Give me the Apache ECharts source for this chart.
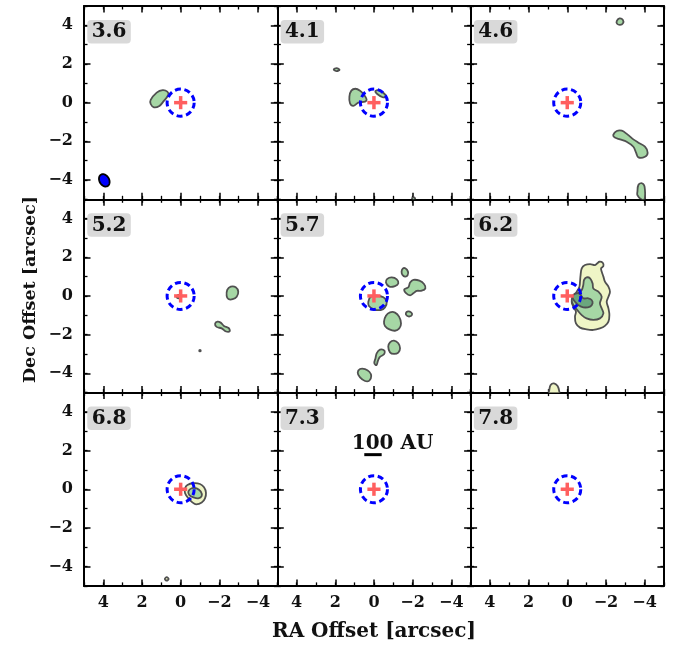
<!DOCTYPE html>
<html><head><meta charset="utf-8">
<script src="https://cdn.jsdelivr.net/npm/echarts@6/dist/echarts.min.js"></script>
<style>html,body{margin:0;padding:0;background:#fff}#c{width:681px;height:648px}</style>
</head><body><div id="c"></div>
<script>
// ---------- data ----------
const channels = ['3.6','4.1','4.6','5.2','5.7','6.2','6.8','7.3','7.8'];
const majorTicks = [-4,-2,0,2,4];
const axisRange = [-5,5];
const sourcePos = [0,0];
const markerRadius = 0.7;
const crossArm = 0.34;
const beamCenter = [3.95,-4.02];
const beamAxes = [0.34,0.25];   // semi-major, semi-minor (arcsec)
const beamPA = 30;              // degrees east of north
const scaleBarX = [0.50,-0.40];
const scaleBarY = 1.79;
const scaleText = '100 AU';
const scaleTextPos = [1.15,2.36];
const xTitle = 'RA Offset [arcsec]';
const yTitle = 'Dec Offset [arcsec]';

// contour outlines (RA offset, Dec offset)
const c36a = [[1.55,0.14],[1.24,0.52],[0.93,0.65],[0.69,0.57],[0.64,0.40],[0.90,0.05],[1.10,-0.17],[1.38,-0.24],[1.55,-0.07]];
const c41a = [[1.24,-0.03],[1.27,0.31],[1.17,0.62],[0.96,0.72],[0.72,0.62],[0.51,0.40],[0.38,0.17],[0.46,0.05],[0.81,0.00],[1.07,-0.17]];
const c41b = [[-0.07,0.59],[-0.23,0.65],[-0.48,0.51],[-0.62,0.31],[-0.45,0.28],[-0.17,0.45]];
const c41c = [[2.08,1.72],[1.93,1.79],[1.78,1.70],[1.93,1.63]];
const c41d = [[-1.97,-4.96],[-2.05,-4.89],[-2.13,-4.96],[-2.05,-5.03]];
const c46a = [[-2.56,4.22],[-2.70,4.36],[-2.88,4.28],[-2.88,4.10],[-2.73,4.02],[-2.58,4.08]];
const c46b = [[-2.38,-1.67],[-2.56,-1.47],[-2.82,-1.45],[-3.11,-1.64],[-3.42,-1.90],[-3.68,-2.07],[-4.02,-2.28],[-4.16,-2.59],[-4.02,-2.80],[-3.68,-2.83],[-3.56,-2.59],[-3.42,-2.28],[-3.07,-2.02],[-2.73,-1.90],[-2.44,-1.79]];
const c46c = [[-3.63,-4.60],[-3.68,-4.26],[-3.86,-4.17],[-4.00,-4.35],[-3.99,-5.05],[-3.82,-5.0],[-3.63,-4.78]];
const c52a = [[-2.38,0.00],[-2.41,0.31],[-2.59,0.48],[-2.85,0.45],[-2.98,0.22],[-2.90,-0.04],[-2.69,-0.17],[-2.47,-0.16]];
const c52b = [[-1.78,-1.45],[-1.90,-1.33],[-2.07,-1.38],[-2.24,-1.55],[-2.48,-1.66],[-2.54,-1.82],[-2.35,-1.84],[-2.12,-1.68],[-1.86,-1.60]];
const c52c = [[0.22,-0.04],[0.12,0.05],[0.02,-0.04],[0.12,-0.12]];
const c52d = [[-0.96,-2.83],[-1.0,-2.79],[-1.04,-2.83],[-1.0,-2.87]];
const c57a = [[-1.43,1.26],[-1.49,1.41],[-1.62,1.43],[-1.76,1.26],[-1.74,1.07],[-1.61,1.00],[-1.47,1.10]];
const c57b = [[-0.62,0.69],[-0.69,0.88],[-0.92,0.96],[-1.18,0.86],[-1.26,0.65],[-1.09,0.51],[-0.80,0.48]];
const c57c = [[-1.57,0.34],[-1.78,0.45],[-1.87,0.69],[-2.04,0.83],[-2.35,0.79],[-2.59,0.62],[-2.66,0.39],[-2.47,0.27],[-2.21,0.26],[-2.04,0.14],[-1.87,0.03],[-1.66,0.14]];
const c57d = [[0.29,-0.30],[0.17,-0.04],[-0.14,0.01],[-0.49,-0.07],[-0.66,-0.30],[-0.57,-0.59],[-0.35,-0.73],[0.00,-0.69],[0.26,-0.52]];
const c57e = [[-1.65,-0.90],[-1.76,-0.80],[-1.92,-0.85],[-1.97,-0.97],[-1.85,-1.06],[-1.70,-1.02]];
const c57f = [[-0.52,-1.33],[-0.62,-1.02],[-0.83,-0.85],[-1.09,-0.86],[-1.30,-1.07],[-1.40,-1.42],[-1.31,-1.68],[-1.09,-1.80],[-0.80,-1.73],[-0.57,-1.55]];
const c57g = [[-0.74,-2.62],[-0.83,-2.40],[-1.04,-2.31],[-1.26,-2.45],[-1.35,-2.71],[-1.26,-2.93],[-1.04,-3.00],[-0.83,-2.92]];
const c57h = [[-0.14,-2.97],[-0.31,-2.78],[-0.54,-2.83],[-0.52,-3.02],[-0.30,-3.16],[-0.20,-3.37],[-0.13,-3.58],[-0.02,-3.47],[-0.08,-3.22]];
const c57i = [[0.84,-3.97],[0.72,-3.78],[0.46,-3.78],[0.24,-3.92],[0.14,-4.14],[0.24,-4.38],[0.46,-4.40],[0.72,-4.21]];
const c62a = [[-1.66,1.77],[-1.83,1.72],[-1.87,1.55],[-1.75,1.43],[-1.78,1.26],[-1.87,1.00],[-1.95,0.74],[-2.13,0.48],[-2.21,0.22],[-2.13,-0.04],[-2.04,-0.30],[-2.13,-0.64],[-2.18,-0.99],[-2.13,-1.33],[-1.95,-1.55],[-1.69,-1.68],[-1.35,-1.76],[-1.00,-1.73],[-0.66,-1.64],[-0.45,-1.42],[-0.40,-1.07],[-0.45,-0.81],[-0.31,-0.55],[-0.23,-0.30],[-0.31,-0.04],[-0.49,0.22],[-0.63,0.48],[-0.66,0.74],[-0.69,1.08],[-0.75,1.43],[-0.92,1.60],[-1.18,1.65],[-1.44,1.60],[-1.56,1.69]];
const c62b = [[-1.00,0.96],[-1.18,0.91],[-1.31,0.65],[-1.35,0.39],[-1.61,0.22],[-1.78,-0.04],[-1.69,-0.38],[-1.78,-0.64],[-1.87,-0.90],[-1.69,-1.16],[-1.35,-1.24],[-1.00,-1.16],[-0.75,-0.99],[-0.52,-0.73],[-0.31,-0.47],[-0.23,-0.21],[-0.31,0.00],[-0.57,0.14],[-0.75,0.31],[-0.83,0.57],[-0.87,0.83]];
const c62c = [[-0.31,0.05],[-0.49,0.14],[-0.66,0.10],[-0.83,-0.12],[-1.09,-0.12],[-1.26,-0.21],[-1.31,-0.38],[-1.18,-0.55],[-0.83,-0.59],[-0.57,-0.47],[-0.40,-0.30],[-0.28,-0.12]];
const c62d = [[0.93,-4.87],[0.86,-4.61],[0.69,-4.52],[0.50,-4.66],[0.41,-4.95],[0.40,-5.15],[0.94,-5.15]];
const c68a = [[-0.23,0.05],[-0.35,0.22],[-0.66,0.31],[-1.00,0.27],[-1.21,0.10],[-1.31,-0.18],[-1.26,-0.47],[-1.09,-0.69],[-0.80,-0.78],[-0.62,-0.69],[-0.40,-0.47],[-0.23,-0.21]];
const c68b = [[-0.40,-0.12],[-0.57,0.05],[-0.83,0.05],[-1.04,-0.12],[-1.09,-0.35],[-0.91,-0.47],[-0.66,-0.42],[-0.45,-0.30]];
const c68c = [[0.82,-4.64],[0.72,-4.55],[0.62,-4.64],[0.72,-4.73]];

// [panel, level, outline]
const contours = [
  [0,'g',c36a],
  [1,'g',c41a],[1,'g',c41b],[1,'g',c41c],[1,'g',c41d],
  [2,'g',c46a],[2,'g',c46b],[2,'g',c46c],
  [3,'g',c52a],[3,'g',c52b],[3,'d',c52c],[3,'g',c52d],
  [4,'g',c57a],[4,'g',c57b],[4,'g',c57c],[4,'g',c57d],[4,'g',c57e],[4,'g',c57f],[4,'g',c57g],[4,'g',c57h],[4,'g',c57i],
  [5,'y',c62a],[5,'g',c62b],[5,'d',c62c],[5,'y',c62d],
  [6,'y',c68a],[6,'g',c68b],[6,'y',c68c]
];

// ---------- styling / layout ----------
const fills = {y:'#eff5c6', g:'#a6d7a5', d:'#6ba77e'};
const FONT = '"DejaVu Serif", serif';
const cell = 193.3, left0 = 84, top0 = 6;

const chart = echarts.init(document.getElementById('c'), null, {renderer:'canvas'});
const grid = [], xAxis = [], yAxis = [], series = [], graphic = [];

function fmt(v){ return v < 0 ? '\u2212' + Math.abs(v) : String(v); }
const labelStyle = {fontFamily: FONT, fontWeight:'bold', fontSize:16, color:'#111'};

for (let p = 0; p < 9; p++) {
  const r = Math.floor(p / 3), c = p % 3;
  const gx = left0 + c * cell, gy = top0 + r * cell;
  grid.push({left: gx, top: gy, width: cell, height: cell, containLabel:false});
  ['bottom','top'].forEach((pos) => {
    xAxis.push({gridIndex:p, type:'value', min:axisRange[0], max:axisRange[1], interval:1, inverse:true, position:pos,
      axisLine:{show:true, onZero:false, lineStyle:{color:'#000', width:2}},
      axisTick:{show:true, inside:true, length:3.5, lineStyle:{color:'#000', width:1.3}},
      axisLabel:{show:false}, splitLine:{show:false}});
  });
  ['bottom','top'].forEach((pos) => {
    xAxis.push({gridIndex:p, type:'value', min:axisRange[0], max:axisRange[1], inverse:true, position:pos,
      axisLine:{show:false, onZero:false},
      axisTick:{show:true, inside:true, length:6.5, customValues:majorTicks, lineStyle:{color:'#000', width:1.5}},
      axisLabel:Object.assign({show: pos==='bottom' && r===2, customValues:majorTicks, formatter:fmt, margin:9}, labelStyle),
      splitLine:{show:false}});
  });
  ['left','right'].forEach((pos) => {
    yAxis.push({gridIndex:p, type:'value', min:axisRange[0], max:axisRange[1], interval:1, position:pos,
      axisLine:{show:true, onZero:false, lineStyle:{color:'#000', width:2}},
      axisTick:{show:true, inside:true, length:3.5, lineStyle:{color:'#000', width:1.3}},
      axisLabel:{show:false}, splitLine:{show:false}});
  });
  ['left','right'].forEach((pos) => {
    yAxis.push({gridIndex:p, type:'value', min:axisRange[0], max:axisRange[1], position:pos,
      axisLine:{show:false, onZero:false},
      axisTick:{show:true, inside:true, length:6.5, customValues:majorTicks, lineStyle:{color:'#000', width:1.5}},
      axisLabel:Object.assign({show: pos==='left' && c===0, customValues:majorTicks, formatter:fmt, margin:11}, labelStyle),
      splitLine:{show:false}});
  });

  const items = contours.filter(ct => ct[0] === p);
  if (items.length) {
    series.push({type:'custom', xAxisIndex:4*p, yAxisIndex:4*p, clip:true, silent:true, z:2,
      data: items.map((it, k) => [it[2][0][0], it[2][0][1], k]),
      renderItem: (params, api) => {
        const it = items[params.dataIndex];
        return {type:'polygon', shape:{points: it[2].map(pt => api.coord(pt)), smooth:0.35},
          style:{fill: fills[it[1]], stroke:'#505050', lineWidth:1.8}};
      }});
  }
  // source marker
  series.push({type:'custom', xAxisIndex:4*p, yAxisIndex:4*p, silent:true, z:5, data:[sourcePos],
    renderItem: (params, api) => {
      const ctr = api.coord(sourcePos);
      const rad = Math.abs(api.size([markerRadius, 0])[0]);
      const a = Math.abs(api.size([crossArm, 0])[0]);
      return {type:'group', children:[
        {type:'line', shape:{x1:ctr[0]-a, y1:ctr[1], x2:ctr[0]+a, y2:ctr[1]}, style:{stroke:'#ff5f5f', lineWidth:3.5}},
        {type:'line', shape:{x1:ctr[0], y1:ctr[1]-a, x2:ctr[0], y2:ctr[1]+a}, style:{stroke:'#ff5f5f', lineWidth:3.5}},
        {type:'circle', shape:{cx:ctr[0], cy:ctr[1], r:rad}, style:{fill:null, stroke:'#0000ff', lineWidth:3, lineDash:[6,3.6]}}
      ]};
    }});

  // channel label
  graphic.push({type:'rect', x: gx + 3.3, y: gy + 14, z:10, shape:{x:0, y:0, width:43.5, height:23.5, r:4}, style:{fill:'#d9d9d9'}});
  graphic.push({type:'text', x: gx + 3.3 + 21.75, y: gy + 14 + 12, z:11, style:{text: channels[p], font:'bold 20px ' + FONT, fill:'#111', align:'center', verticalAlign:'middle'}});
}

// beam (panel 0)
series.push({type:'custom', xAxisIndex:0, yAxisIndex:0, silent:true, z:4, data:[beamCenter],
  renderItem: (params, api) => {
    const pa = beamPA * Math.PI / 180, pts = [];
    for (let k = 0; k < 48; k++) {
      const t = 2 * Math.PI * k / 48;
      const v = beamAxes[0] * Math.sin(t), u = beamAxes[1] * Math.cos(t);
      pts.push(api.coord([beamCenter[0] + v*Math.sin(pa) + u*Math.cos(pa), beamCenter[1] + v*Math.cos(pa) - u*Math.sin(pa)]));
    }
    return {type:'polygon', shape:{points:pts}, style:{fill:'#0000ff', stroke:'#000', lineWidth:1.8}};
  }});

// scale bar (panel 7)
series.push({type:'custom', xAxisIndex:28, yAxisIndex:28, silent:true, z:6, data:[[scaleBarX[0], scaleBarY]],
  renderItem: (params, api) => {
    const p1 = api.coord([scaleBarX[0], scaleBarY]), p2 = api.coord([scaleBarX[1], scaleBarY]);
    const tp = api.coord(scaleTextPos);
    return {type:'group', children:[
      {type:'line', shape:{x1:p1[0], y1:p1[1], x2:p2[0], y2:p2[1]}, style:{stroke:'#000', lineWidth:3}},
      {type:'text', x: tp[0], y: tp[1], style:{text: scaleText, font:'bold 20px ' + FONT, fill:'#111', align:'left', verticalAlign:'middle'}}
    ]};
  }});

graphic.push({type:'text', x: left0 + 1.5*cell, y: 632, style:{text: xTitle, font:'bold 20px ' + FONT, fill:'#111', align:'center', verticalAlign:'middle'}});
graphic.push({type:'text', x: 30, y: 289.5, rotation: Math.PI/2, style:{text: yTitle, font:'bold 17.5px ' + FONT, fill:'#111', align:'center', verticalAlign:'middle'}});

chart.setOption({animation:false, backgroundColor:'#fff', grid, xAxis, yAxis, series, graphic});
</script>
</body></html>
